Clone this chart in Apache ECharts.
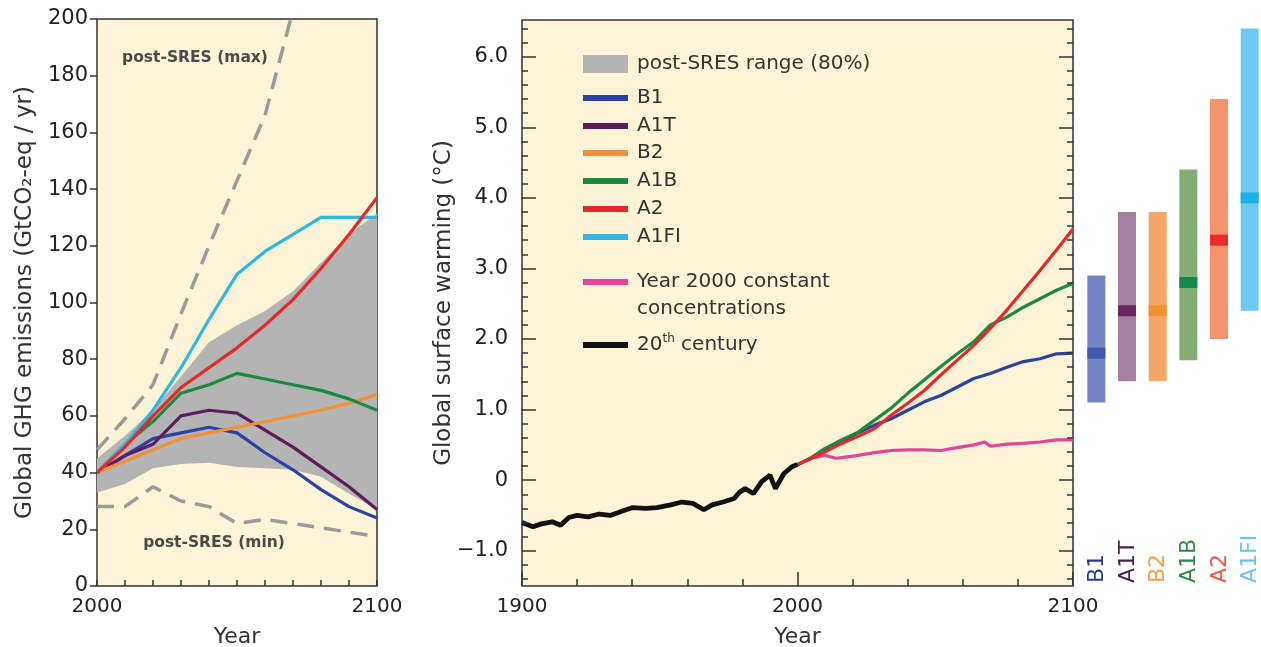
<!DOCTYPE html>
<html><head><meta charset="utf-8">
<script src="https://cdn.jsdelivr.net/npm/echarts@6/dist/echarts.min.js"></script>
<style>html,body{margin:0;padding:0;background:#fff}#c{width:1261px;height:647px}</style>
</head><body><div id="c"></div>
<script>
// ---------------- data ----------------
const scenarios = ['B1', 'A1T', 'B2', 'A1B', 'A2', 'A1FI'];

// left panel: emissions (GtCO2-eq / yr)
const emisYears = [2000, 2010, 2020, 2030, 2040, 2050, 2060, 2070, 2080, 2090, 2100];
const emisB1   = [40, 46, 52, 54, 56, 54, 47, 41, 34, 28, 24];
const emisA1T  = [40, 46, 50, 60, 62, 61, 55, 49, 42, 35, 27];
const emisB2   = [40, 44, 48, 52, 54, 56, 58, 60, 62, 64.5, 67.5];
const emisA1B  = [40, 50, 58, 68, 71, 75, 73, 71, 69, 66, 62];
const emisA2   = [40, 49, 60, 70, 77, 84, 92, 101, 112, 124, 137];
const emisA1FI = [40, 50, 62, 77, 94, 110, 118, 124, 130, 130, 130];
const bandLow  = [33, 36, 41.5, 43, 43.5, 42, 41.5, 41, 38.5, 32.5, 27];
const bandHigh = [45, 53, 62, 74, 86, 92, 97, 104, 114, 124, 131.5];
const postSresMax = [48, 59, 71, 96, 120, 143, 166, 203, null, null, null];
const postSresMin = [28, 28, 35, 30, 28, 22, 23.5, 22, 20.5, 19, 17.5];

// middle panel: warming (°C)
const c20Years = [1900, 1904, 1907, 1911, 1914, 1917, 1920, 1924, 1928, 1932, 1937, 1940, 1945, 1949, 1954, 1958, 1962, 1966, 1969, 1973, 1977, 1979, 1981, 1984, 1987, 1990, 1992, 1995, 1998, 2000];
const c20Temp  = [-0.60, -0.66, -0.62, -0.59, -0.64, -0.53, -0.50, -0.52, -0.48, -0.50, -0.43, -0.39, -0.40, -0.39, -0.35, -0.31, -0.33, -0.42, -0.35, -0.31, -0.26, -0.17, -0.12, -0.19, -0.02, 0.07, -0.12, 0.09, 0.19, 0.22];
const futYears = [2000, 2005, 2010, 2016, 2022, 2028, 2034, 2040, 2046, 2052, 2058, 2064, 2070, 2076, 2082, 2088, 2094, 2100];
const tB1  = [0.22, 0.31, 0.43, 0.55, 0.67, 0.78, 0.87, 0.99, 1.11, 1.20, 1.32, 1.44, 1.51, 1.60, 1.68, 1.72, 1.79, 1.80];
const tA1B = [0.22, 0.32, 0.45, 0.57, 0.68, 0.85, 1.02, 1.23, 1.42, 1.61, 1.79, 1.96, 2.20, 2.31, 2.45, 2.57, 2.69, 2.79];
const tA2  = [0.22, 0.31, 0.40, 0.52, 0.62, 0.73, 0.92, 1.09, 1.27, 1.49, 1.70, 1.91, 2.15, 2.41, 2.69, 2.97, 3.26, 3.56];
const commitYears = [2000, 2005, 2010, 2014, 2016, 2022, 2028, 2034, 2040, 2046, 2052, 2058, 2064, 2068, 2070, 2076, 2082, 2088, 2094, 2100];
const tCommit = [0.22, 0.31, 0.35, 0.31, 0.32, 0.35, 0.39, 0.42, 0.43, 0.43, 0.42, 0.46, 0.50, 0.54, 0.48, 0.51, 0.52, 0.54, 0.57, 0.57];

// right bars: likely range and best estimate at 2090-2099
const rangeLow  = [1.1, 1.4, 1.4, 1.7, 2.0, 2.4];
const rangeHigh = [2.9, 3.8, 3.8, 4.4, 5.4, 6.4];
const bestEst   = [1.8, 2.4, 2.4, 2.8, 3.4, 4.0];

// tick labels
const emisXLabels = [2000, 2100];
const tempXLabels = [1900, 2000, 2100];

// legend texts
const legendBand = 'post-SRES range (80%)';
const legendCommit = ['Year 2000 constant', 'concentrations'];

// ---------------- styles ----------------
const col = { B1: '#2b42a0', A1T: '#5d1d5c', B2: '#f0903a', A1B: '#1b8a3f', A2: '#e5282a', A1FI: '#2fb5e6', commit: '#e0479b', c20: '#111111' };
const rangeCol = ['#7282c2', '#a57f9f', '#f4a765', '#84ad74', '#f3946f', '#6ec9f1'];
const bestCol  = ['#3f58b0', '#6b2461', '#f0932f', '#15884a', '#ea2b2b', '#1db0e6'];
const labCol   = ['#2c3a8a', '#4d1c48', '#f2a04e', '#2b8c46', '#ee5546', '#6ac3ee'];
const FONT = '"DejaVu Sans", sans-serif';
const BG = '#fdf3d6';
const TXT = '#222';

const G0 = { left: 97, top: 19, width: 280, height: 567 };
const G1 = { left: 522, top: 20, width: 551, height: 566 };
const tMin = -1.5, tMax = 6.52;
const k = G1.height / (tMax - tMin);
const yPix = v => G1.top + (tMax - v) * k;
const GT = { left: 522, width: 551, top: yPix(6), height: 7 * k };
const GM = { left: 522, width: 551, top: yPix(6.4), height: 7.8 * k };
const G2 = { left: 1081, width: 184, top: 20, height: 566 };

const pairs = (xs, ys) => xs.map((x, i) => [x, ys[i]]);
const lineS = (name, xs, ys, color, width, xi, yi, extra) => Object.assign({
  type: 'line', name, data: pairs(xs, ys), xAxisIndex: xi, yAxisIndex: yi,
  symbol: 'none', smooth: false, lineStyle: { color, width }, itemStyle: { color },
  silent: true, animation: false
}, extra || {});

const gridBase = { show: false, containLabel: false, outerBoundsMode: 'none' };
const noSplit = { splitLine: { show: false } };
const tickStyle = { color: '#333', width: 1.5 };
const noLine = { show: false, onZero: false };

const option = {
  backgroundColor: '#ffffff',
  animation: false,
  grid: [
    Object.assign({}, gridBase, G0, { show: true, backgroundColor: BG, borderColor: '#333', borderWidth: 1.5 }),
    Object.assign({}, gridBase, G1, { show: true, backgroundColor: BG, borderColor: '#333', borderWidth: 1.5 }),
    Object.assign({}, gridBase, GT),
    Object.assign({}, gridBase, GM),
    Object.assign({}, gridBase, G2)
  ],
  xAxis: [
    Object.assign({ type: 'value', gridIndex: 0, min: 2000, max: 2100, interval: 10, position: 'bottom', z: 10,
      axisLine: noLine, axisTick: { show: true, inside: true, length: 6, lineStyle: tickStyle },
      axisLabel: { margin: 11, color: TXT, fontSize: 20, fontFamily: FONT, formatter: v => emisXLabels.includes(v) ? String(v) : '' },
      name: 'Year', nameLocation: 'middle', nameGap: 40, nameMoveOverlap: false,
      nameTextStyle: { color: '#333', fontSize: 22, fontFamily: FONT } }, noSplit),
    Object.assign({ type: 'value', gridIndex: 1, min: 1900, max: 2100, interval: 20, position: 'bottom', z: 10,
      axisLine: noLine, axisTick: { show: true, inside: true, length: 7, lineStyle: tickStyle },
      axisLabel: { show: false } }, noSplit),
    Object.assign({ type: 'value', gridIndex: 1, min: 1900, max: 2100, interval: 100, position: 'bottom', z: 10,
      axisLine: noLine, axisTick: { show: true, inside: true, length: 14, lineStyle: tickStyle },
      axisLabel: { margin: 11, color: TXT, fontSize: 20, fontFamily: FONT, formatter: v => tempXLabels.includes(v) ? String(v) : '' },
      name: 'Year', nameLocation: 'middle', nameGap: 40, nameMoveOverlap: false,
      nameTextStyle: { color: '#333', fontSize: 22, fontFamily: FONT } }, noSplit),
    Object.assign({ type: 'value', gridIndex: 2, min: 0, max: 1, show: false, axisLine: noLine }, noSplit),
    Object.assign({ type: 'value', gridIndex: 3, min: 0, max: 1, show: false, axisLine: noLine }, noSplit),
    { type: 'category', gridIndex: 4, data: scenarios, show: false, axisLine: noLine }
  ],
  yAxis: [
    Object.assign({ type: 'value', gridIndex: 0, min: 0, max: 200, interval: 20, position: 'left', z: 10,
      axisLine: noLine, axisTick: { show: true, inside: false, length: 7, lineStyle: tickStyle },
      axisLabel: { margin: 9, color: TXT, fontSize: 21, fontFamily: FONT },
      name: 'Global GHG emissions (GtCO\u2082-eq / yr)', nameLocation: 'middle', nameGap: 60, nameMoveOverlap: false,
      nameTextStyle: { color: '#333', fontSize: 23, fontFamily: FONT } }, noSplit),
    Object.assign({ type: 'value', gridIndex: 1, min: tMin, max: tMax, position: 'left',
      axisLine: noLine, axisTick: { show: false }, axisLabel: { show: false },
      name: 'Global surface warming (\u00B0C)', nameLocation: 'middle', nameGap: 66, nameMoveOverlap: false,
      nameTextStyle: { color: '#333', fontSize: 23, fontFamily: FONT } }, noSplit),
    Object.assign({ type: 'value', gridIndex: 2, min: -1, max: 6, interval: 1, position: 'left', z: 10,
      axisLine: noLine, axisTick: { show: true, inside: true, length: 14, lineStyle: tickStyle },
      axisLabel: { margin: 14, color: TXT, fontSize: 21, fontFamily: FONT,
        formatter: v => v === 0 ? '0' : (v < 0 ? '\u2212' + Math.abs(v).toFixed(1) : v.toFixed(1)) } }, noSplit),
    Object.assign({ type: 'value', gridIndex: 2, min: -1, max: 6, interval: 1, position: 'right', z: 10,
      axisLine: noLine, axisTick: { show: true, inside: true, length: 14, lineStyle: tickStyle },
      axisLabel: { show: false } }, noSplit),
    Object.assign({ type: 'value', gridIndex: 3, min: -1.4, max: 6.4, interval: 0.2, position: 'left', z: 10,
      axisLine: noLine, axisTick: { show: true, inside: true, length: 6, lineStyle: tickStyle },
      axisLabel: { show: false } }, noSplit),
    Object.assign({ type: 'value', gridIndex: 3, min: -1.4, max: 6.4, interval: 0.2, position: 'right', z: 10,
      axisLine: noLine, axisTick: { show: true, inside: true, length: 6, lineStyle: tickStyle },
      axisLabel: { show: false } }, noSplit),
    Object.assign({ type: 'value', gridIndex: 4, min: tMin, max: tMax, show: false, axisLine: noLine }, noSplit)
  ],
  series: [
    // post-SRES 80% band (left)
    {
      type: 'custom', name: 'band', xAxisIndex: 0, yAxisIndex: 0, silent: true,
      data: emisYears.map((y, i) => [y, bandLow[i], bandHigh[i]]),
      encode: { x: 0, y: [1, 2] },
      renderItem: function (params, api) {
        if (params.dataIndex !== 0) return null;
        const top = emisYears.map((y, i) => api.coord([y, bandHigh[i]]));
        const bot = emisYears.map((y, i) => api.coord([y, bandLow[i]])).reverse();
        return { type: 'polygon', shape: { points: top.concat(bot) }, style: { fill: '#b4b4b4', stroke: null } };
      }
    },
    lineS('post-SRES (max)', emisYears, postSresMax, '#9a9a9a', 3.5, 0, 0, { lineStyle: { color: '#9a9a9a', width: 3.5, type: [17, 10] } }),
    lineS('post-SRES (min)', emisYears, postSresMin, '#9a9a9a', 3.5, 0, 0, { lineStyle: { color: '#9a9a9a', width: 3.5, type: [17, 10] } }),
    lineS('B1', emisYears, emisB1, col.B1, 3.2, 0, 0),
    lineS('A1T', emisYears, emisA1T, col.A1T, 3.2, 0, 0),
    lineS('B2', emisYears, emisB2, col.B2, 3.2, 0, 0),
    lineS('A1B', emisYears, emisA1B, col.A1B, 3.2, 0, 0),
    lineS('A1FI', emisYears, emisA1FI, col.A1FI, 3.2, 0, 0),
    lineS('A2', emisYears, emisA2, col.A2, 3.2, 0, 0),
    // middle
    lineS('commit', commitYears, tCommit, col.commit, 3.2, 1, 1),
    lineS('tB1', futYears, tB1, col.B1, 3.2, 1, 1),
    lineS('tA1B', futYears, tA1B, col.A1B, 3.2, 1, 1),
    lineS('tA2', futYears, tA2, col.A2, 3.2, 1, 1),
    lineS('20th century', c20Years, c20Temp, col.c20, 4.8, 1, 1),
    // right bars
    {
      type: 'custom', name: 'ranges', xAxisIndex: 5, yAxisIndex: 6, silent: true,
      data: scenarios.map((s, i) => [s, rangeLow[i], rangeHigh[i], bestEst[i]]),
      encode: { x: 0, y: [1, 2, 3] },
      renderItem: function (params, api) {
        const i = params.dataIndex;
        const lo = api.coord([api.value(0), api.value(1)]);
        const hi = api.coord([api.value(0), api.value(2)]);
        const be = api.coord([api.value(0), api.value(3)]);
        const base = api.coord([api.value(0), tMin]);
        const w = 18;
        return { type: 'group', children: [
          { type: 'rect', shape: { x: lo[0] - w / 2, y: hi[1], width: w, height: lo[1] - hi[1] }, style: { fill: rangeCol[i] } },
          { type: 'rect', shape: { x: be[0] - w / 2, y: be[1] - 5.5, width: w, height: 11 }, style: { fill: bestCol[i] } },
          { type: 'text', x: lo[0] + 1, y: base[1] - 3, rotation: Math.PI / 2,
            style: { text: scenarios[i], fill: labCol[i], fontSize: 22, fontFamily: FONT, align: 'left', verticalAlign: 'middle' } }
        ] };
      }
    }
  ],
  graphic: []
};

// left annotations
option.graphic.push(
  { type: 'text', x: 195, y: 58, silent: true, style: { text: 'post-SRES (max)', fill: '#4a4a4a', fontSize: 15.5, fontWeight: 'bold', fontFamily: FONT, align: 'center', verticalAlign: 'middle' } },
  { type: 'text', x: 214, y: 543, silent: true, style: { text: 'post-SRES (min)', fill: '#4a4a4a', fontSize: 15.5, fontWeight: 'bold', fontFamily: FONT, align: 'center', verticalAlign: 'middle' } }
);

// legend (middle panel)
const LX = 583, LW = 45, TX = 637;
option.graphic.push(
  { type: 'rect', silent: true, shape: { x: LX, y: 55, width: LW, height: 18 }, style: { fill: '#b4b4b4' } },
  { type: 'text', x: TX, y: 64, silent: true, style: { text: legendBand, fill: '#333', fontSize: 20, fontFamily: FONT, align: 'left', verticalAlign: 'middle' } }
);
const legYs = [98, 126, 153, 181, 209, 237];
scenarios.forEach((s, i) => {
  option.graphic.push(
    { type: 'rect', silent: true, shape: { x: LX, y: legYs[i] - 3, width: LW, height: 6 }, style: { fill: col[s] } },
    { type: 'text', x: TX, y: legYs[i], silent: true, style: { text: s, fill: '#333', fontSize: 20, fontFamily: FONT, align: 'left', verticalAlign: 'middle' } }
  );
});
option.graphic.push(
  { type: 'rect', silent: true, shape: { x: LX, y: 279, width: LW, height: 6 }, style: { fill: col.commit } },
  { type: 'text', x: TX, y: 282, silent: true, style: { text: legendCommit[0], fill: '#333', fontSize: 20, fontFamily: FONT, align: 'left', verticalAlign: 'middle' } },
  { type: 'text', x: TX, y: 309, silent: true, style: { text: legendCommit[1], fill: '#333', fontSize: 20, fontFamily: FONT, align: 'left', verticalAlign: 'middle' } },
  { type: 'rect', silent: true, shape: { x: LX, y: 342, width: LW, height: 6 }, style: { fill: col.c20 } },
  { type: 'text', x: TX, y: 345, silent: true, style: {
      text: '{a|20}{b|th}{a| century}', align: 'left', verticalAlign: 'middle',
      rich: { a: { fill: '#333', fontSize: 20, fontFamily: FONT, lineHeight: 24 },
              b: { fill: '#333', fontSize: 12, fontFamily: FONT, verticalAlign: 'top', lineHeight: 12 } } } }
);

const chart = echarts.init(document.getElementById('c'), null, { renderer: 'canvas' });
chart.setOption(option);
</script>
</body></html>
